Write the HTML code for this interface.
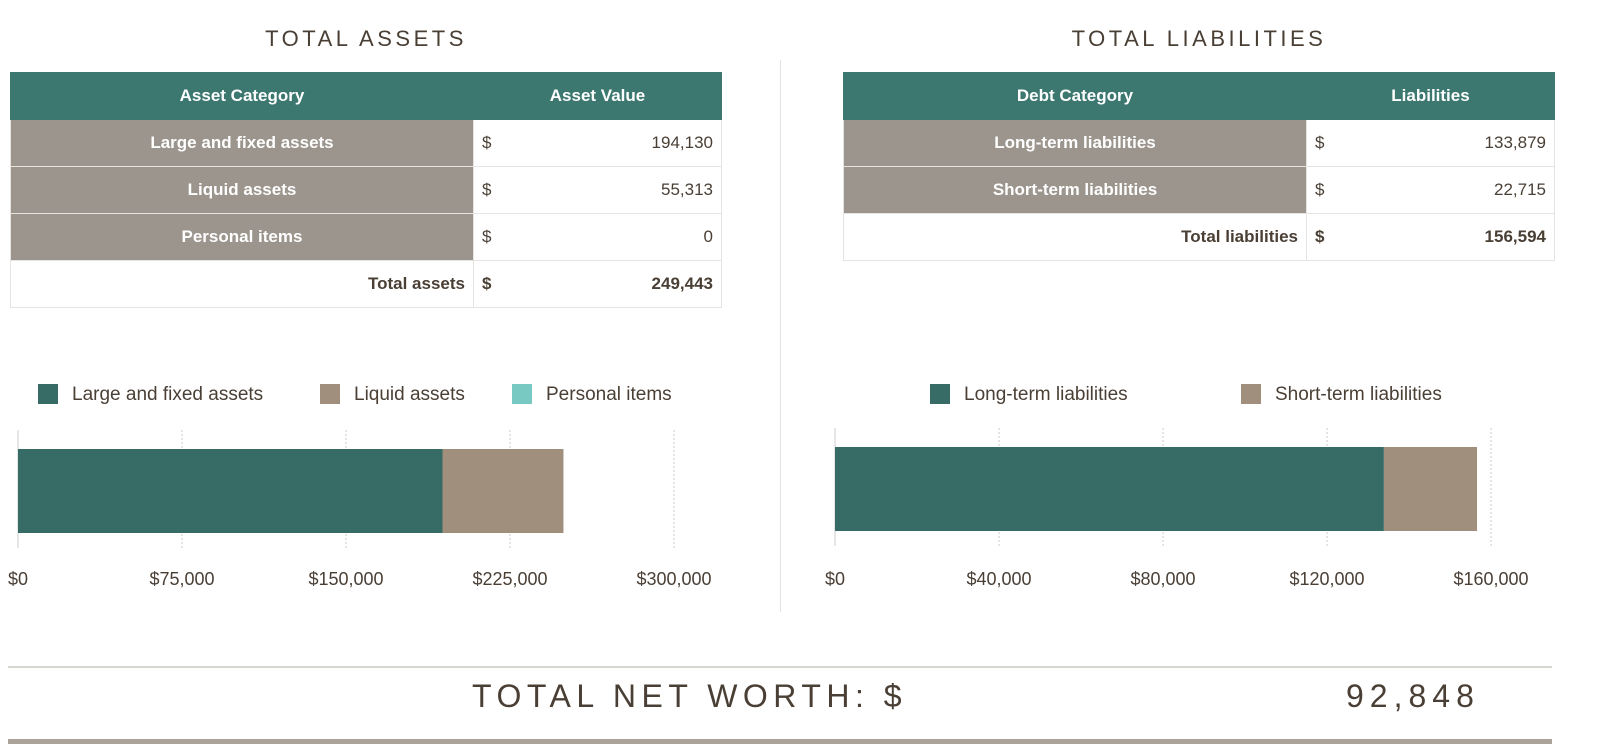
<!DOCTYPE html>
<html><head><meta charset="utf-8">
<style>
body{margin:0;width:1600px;height:756px;background:#fff;font-family:"Liberation Sans",sans-serif;color:#4a3f35;position:relative;overflow:hidden}
.abs{position:absolute}
.title{font-size:22px;letter-spacing:3.5px;color:#4a3f35;text-align:center;top:26px}
table{border-collapse:collapse;position:absolute;font-size:17px}
td,th{height:46px;padding:0 8px;border:1px solid #e6e4e0}
th{background:#3c7770;color:#fff;font-weight:bold;text-align:center;border-color:#3c7770}
td.cat{background:#9c958d;color:#fff;font-weight:bold;text-align:center;border-color:#e6e4e0}
td.val{text-align:right;color:#4a3f35}
td.dol{text-align:left;width:14px;border-right:none}
td.num{border-left:none}
.tot td{font-weight:bold;color:#4a3f35}
</style></head><body>
<div class="abs title" style="left:10px;width:712px">TOTAL ASSETS</div>
<div class="abs title" style="left:843px;width:712px">TOTAL LIABILITIES</div>
<div class="abs" style="left:780px;top:60px;width:1px;height:552px;background:#e6e4e0"></div>

<table style="left:10px;top:72px;width:712px">
<tr><th style="width:446px">Asset Category</th><th colspan="2">Asset Value</th></tr>
<tr><td class="cat">Large and fixed assets</td><td class="dol">$</td><td class="val num">194,130</td></tr>
<tr><td class="cat">Liquid assets</td><td class="dol">$</td><td class="val num">55,313</td></tr>
<tr><td class="cat">Personal items</td><td class="dol">$</td><td class="val num">0</td></tr>
<tr class="tot"><td style="text-align:right">Total assets</td><td class="dol">$</td><td class="val num">249,443</td></tr>
</table>

<table style="left:843px;top:72px;width:712px">
<tr><th style="width:446px">Debt Category</th><th colspan="2">Liabilities</th></tr>
<tr><td class="cat">Long-term liabilities</td><td class="dol">$</td><td class="val num">133,879</td></tr>
<tr><td class="cat">Short-term liabilities</td><td class="dol">$</td><td class="val num">22,715</td></tr>
<tr class="tot"><td style="text-align:right">Total liabilities</td><td class="dol">$</td><td class="val num">156,594</td></tr>
</table>

<svg id="chart" class="abs" style="left:0;top:0" width="1600" height="756"></svg>

<div class="abs" style="left:8px;top:666px;width:1544px;height:2px;background:#d8d6d0"></div>
<div class="abs" style="left:472px;top:678px;font-size:32px;letter-spacing:5.5px;color:#4a3f35">TOTAL NET WORTH: $</div>
<div class="abs" style="left:1346px;top:678px;font-size:32px;letter-spacing:6px;color:#4a3f35">92,848</div>
<div class="abs" style="left:8px;top:739px;width:1544px;height:5px;background:#aaa39a"></div>

<script>
const assetCategories=["Large and fixed assets","Liquid assets","Personal items"];
const assetValues=[194130,55313,0];
const assetColors=["#376b66","#a08f7c","#79c9c3"];
const assetTicks=[0,75000,150000,225000,300000];
const assetTickLabels=["$0","$75,000","$150,000","$225,000","$300,000"];
const liabCategories=["Long-term liabilities","Short-term liabilities"];
const liabValues=[133879,22715];
const liabColors=["#376b66","#a08f7c"];
const liabTicks=[0,40000,80000,120000,160000];
const liabTickLabels=["$0","$40,000","$80,000","$120,000","$160,000"];

const svg=document.getElementById('chart');
const NS="http://www.w3.org/2000/svg";
function mk(t,a){const e=document.createElementNS(NS,t);for(const k in a)e.setAttribute(k,a[k]);svg.appendChild(e);return e;}
function drawChart(cfg){
  const x=v=>cfg.x0+(v/cfg.max)*cfg.w;
  cfg.ticks.forEach((t,i)=>{
    if(i>0){const g=mk('line',{x1:x(t),x2:x(t),y1:cfg.gy0,y2:cfg.gy1,stroke:'#c8c8c8','stroke-dasharray':'2,2'});
    
    }
    const l=mk('text',{x:x(t),y:585,'text-anchor':'middle','font-size':18,fill:'#4a3f35','font-family':'Liberation Sans, sans-serif'});
    l.textContent=cfg.labels[i];
    
    
  });
  const ax=mk('line',{x1:cfg.x0,x2:cfg.x0,y1:cfg.gy0,y2:cfg.gy1,stroke:'#ccc'});
  
  
  let acc=0;
  cfg.vals.forEach((v,i)=>{
    const r=mk('rect',{x:x(acc),y:cfg.by,width:x(acc+v)-x(acc),height:84,fill:cfg.colors[i]});
    
    
    acc+=v;
  });
  cfg.cats.forEach((c,i)=>{
    const lx=cfg.legX[i];
    const s=mk('rect',{x:lx,y:384,width:20,height:20,fill:cfg.colors[i]});
    
    
    const t=mk('text',{x:lx+34,y:400,'font-size':19,fill:'#4a3f35','font-family':'Liberation Sans, sans-serif'});
    t.textContent=c;
    
    
  });
}
drawChart({x0:18,w:656,max:300000,ticks:assetTicks,labels:assetTickLabels,vals:assetValues,colors:assetColors,cats:assetCategories,gy0:430,gy1:548,by:449,legX:[38,320,512]});
drawChart({x0:835,w:656,max:160000,ticks:liabTicks,labels:liabTickLabels,vals:liabValues,colors:liabColors,cats:liabCategories,gy0:428,gy1:546,by:447,legX:[930,1241]});
</script>
</body></html>
